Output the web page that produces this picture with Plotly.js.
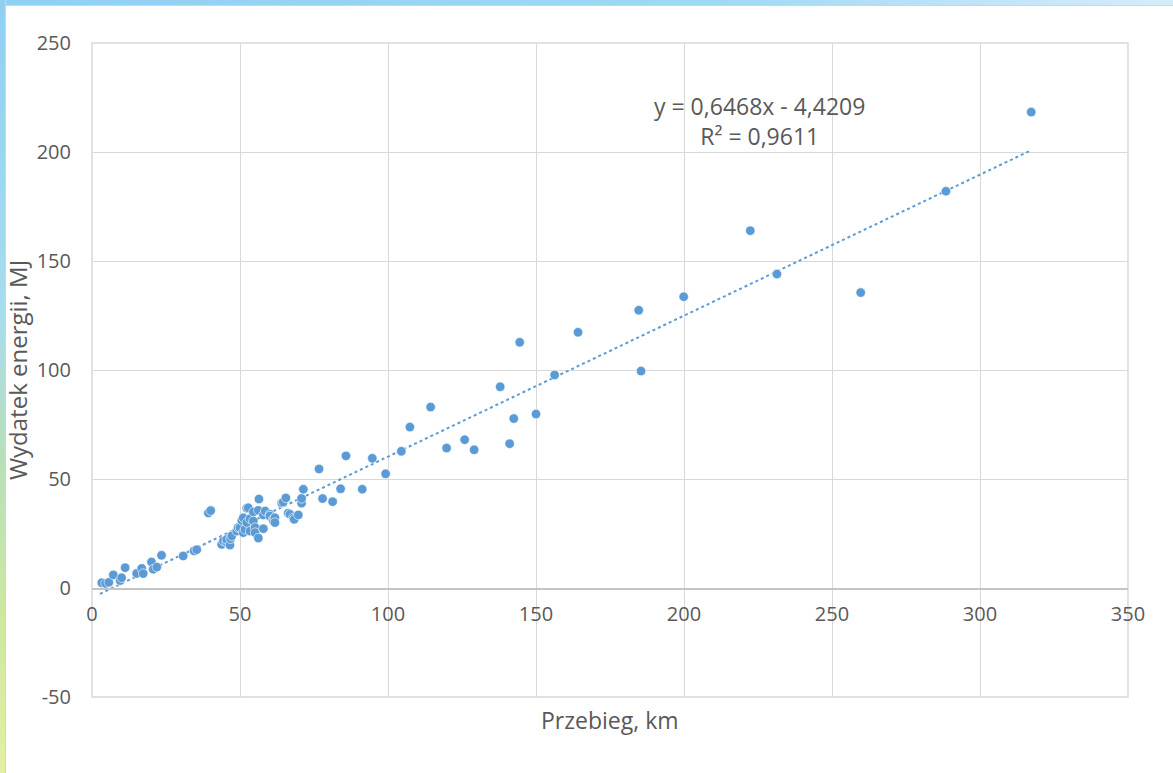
<!DOCTYPE html>
<html>
<head>
<meta charset="utf-8">
<script src="https://cdn.plot.ly/plotly-3.0.1.min.js"></script>
<style>
  html, body { margin: 0; padding: 0; background: #ffffff; }
  #frameTop { position: absolute; left: 0; top: 0; width: 1173px; height: 5px;
    background: linear-gradient(to right, #8fd0f3 0%, #9fd8f5 60%, #d6ecfa 100%); border-bottom: 1px solid #d4d4d4; }
  #frameLeft { position: absolute; left: 0; top: 0; width: 5px; height: 773px;
    background: linear-gradient(to bottom, #8fd0f3 0%, #a8dcef 40%, #b8e0b8 60%, #cde8a0 80%, #e2f1a0 100%); border-right: 1px solid #d4d4d4; }
  #chart { position: absolute; left: 0; top: 0; width: 1173px; height: 773px; }
</style>
</head>
<body>
<div id="chart"></div>
<div id="frameTop"></div>
<div id="frameLeft"></div>
<script>
// Przebieg, km
const przebieg = [
  3.3, 4.6, 5.7, 7.2, 9.5, 10.0, 11.2, 15.1, 16.8, 17.3, 20.1, 20.7, 21.9, 23.5, 30.8, 34.5, 35.4, 39.3, 40.1,
  43.8, 44.4, 45.5, 45.5, 46.6, 46.8, 47.2, 48.9, 49.4, 50.0, 50.6, 51.1, 51.1, 51.7, 52.3, 52.3, 52.8, 53.4, 53.4,
  54.5, 54.5, 55.1, 55.1, 56.2, 56.2, 56.4, 57.9, 57.9, 58.5, 60.1, 60.1, 61.2, 61.3, 61.8, 61.8, 64.1, 64.6, 65.5,
  66.3, 66.9, 68.0, 68.3, 69.7, 70.8, 70.8, 71.4,
  76.7, 77.9, 81.3, 84.0, 85.8, 91.3, 94.7, 99.2, 104.5, 107.4, 114.4, 119.8, 125.9, 129.1, 137.9, 141.1, 142.5,
  144.5, 150.0, 156.3, 164.2, 184.7, 185.5, 199.9, 222.4, 231.4, 259.7, 288.5, 317.3
];
// Wydatek energii, MJ
const wydatek = [
  2.4, 2.1, 2.6, 6.0, 3.4, 4.7, 9.3, 6.7, 9.0, 6.6, 11.9, 8.6, 9.6, 15.0, 14.7, 17.0, 17.6, 34.4, 35.5,
  20.0, 21.6, 21.0, 22.3, 19.7, 22.6, 23.9, 26.1, 27.7, 27.7, 31.0, 25.4, 32.2, 26.9, 30.0, 36.6, 36.8, 31.8, 26.1,
  34.9, 30.7, 27.7, 25.4, 35.6, 22.9, 40.8, 33.5, 27.2, 35.3, 33.8, 33.0, 31.5, 30.7, 32.2, 30.0, 39.0, 39.4, 41.3,
  34.3, 33.8, 32.2, 31.5, 33.5, 38.9, 41.1, 45.3,
  54.6, 41.0, 39.6, 45.5, 60.6, 45.3, 59.5, 52.4, 62.7, 73.8, 83.0, 64.2, 68.0, 63.4, 92.3, 66.2, 77.7,
  112.7, 79.8, 97.7, 117.3, 127.4, 99.5, 133.6, 163.9, 144.0, 135.5, 182.0, 218.3
];
// Linear trend (as given on the chart)
const trendSlope = 0.6468;
const trendIntercept = -4.4209;
const trendLabel = ["y = 0,6468x - 4,4209", "R² = 0,9611"];
const xTicks = [0, 50, 100, 150, 200, 250, 300, 350];
const yTicks = [-50, 0, 50, 100, 150, 200, 250];

const xMin = Math.min(...przebieg), xMax = Math.max(...przebieg);
const trendX = [xMin - 0.6, xMax];
const trendY = trendX.map(v => trendSlope * v + trendIntercept);

const blue = '#5b9bd5';
const grey = '#595959';
const fontFam = '"Open Sans", sans-serif';

const traces = [
  {
    x: trendX, y: trendY, type: 'scatter', mode: 'lines',
    line: { color: blue, width: 2, dash: 'dot' }, hoverinfo: 'skip', showlegend: false
  },
  {
    x: przebieg, y: wydatek, type: 'scatter', mode: 'markers',
    marker: { color: blue, size: 9.5, line: { color: '#ffffff', width: 0.6 } }, showlegend: false
  }
];

const layout = {
  width: 1173, height: 773,
  margin: { l: 92, r: 45, t: 43, b: 76 },
  paper_bgcolor: 'rgba(0,0,0,0)',
  plot_bgcolor: '#ffffff',
  font: { family: fontFam, color: grey, size: 20 },
  showlegend: false,
  xaxis: {
    range: [0, 350], tickvals: xTicks, ticktext: xTicks.map(String),
    showgrid: true, gridcolor: '#d9d9d9', gridwidth: 1,
    zeroline: false, showline: true, linecolor: '#c4c4c4', linewidth: 1.5,
    anchor: 'free', position: 50 / 300,
    ticks: '', ticklabelstandoff: 7,
    tickfont: { family: fontFam, size: 20, color: grey }
  },
  yaxis: {
    range: [-50, 250], tickvals: yTicks, ticktext: yTicks.map(String),
    showgrid: true, gridcolor: '#d9d9d9', gridwidth: 1,
    zeroline: false, showline: false,
    ticks: '', ticklabelstandoff: 20,
    tickfont: { family: fontFam, size: 20, color: grey },
    title: { text: 'Wydatek energii, MJ', font: { family: fontFam, size: 24, color: grey }, standoff: 2 }
  },
  shapes: [
    { type: 'rect', xref: 'paper', yref: 'paper', x0: 0, x1: 1, y0: 0, y1: 1,
      line: { color: '#d9d9d9', width: 1.5 }, layer: 'below' }
  ],
  annotations: [
    { xref: 'paper', yref: 'paper', x: 0.5, y: 0, yshift: -5, yanchor: 'top', showarrow: false,
      text: 'Przebieg, km', font: { family: fontFam, size: 23, color: grey } },
    { xref: 'x', yref: 'y', x: 225.5, y: 214, showarrow: false, align: 'center',
      text: trendLabel.join('<br>'), font: { family: fontFam, size: 23, color: grey } }
  ]
};

Plotly.newPlot('chart', traces, layout, { displayModeBar: false, staticPlot: true });
</script>
</body>
</html>
